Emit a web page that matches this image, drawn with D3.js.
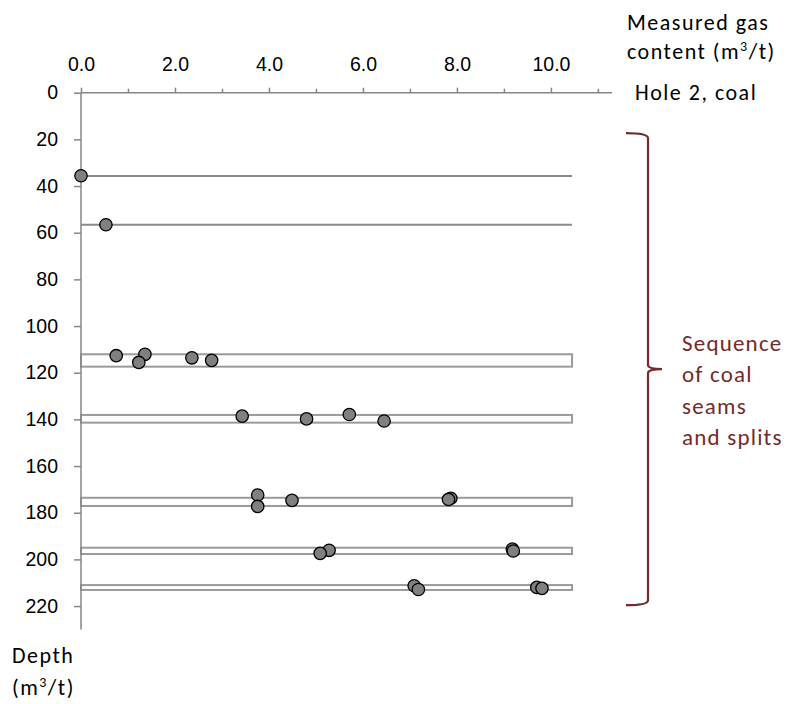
<!DOCTYPE html>
<html>
<head>
<meta charset="utf-8">
<script src="https://cdn.jsdelivr.net/npm/d3@7"></script>
<style>
  body { margin: 0; background: #fff; }
  svg { font-family: Carlito, Calibri, Lato, sans-serif; }
  .axis path, .axis line { stroke: #868686; stroke-width: 1.5px; }
  .axis text { font-size: 19.5px; fill: #000; }
  .lbl { font-size: 22px; letter-spacing: 1.5px; }
</style>
</head>
<body>
<div id="chart"></div>
<script>
// x ticks (gas content) and y ticks (depth)
var xTicks = [0, 2, 4, 6, 8, 10];
var xMinorTicks = [1, 3, 5, 7, 9, 11];
var yTicks = [0, 20, 40, 60, 80, 100, 120, 140, 160, 180, 200, 220];

// single seam lines (depth)
var lineDepths = [35.7, 56.6];
// seams drawn as thin boxes (top / bottom depth)
var seamTops = [112.1, 138.1, 173.6, 195.0, 211.0];
var seamBottoms = [117.4, 141.4, 177.1, 197.7, 213.1];
var seamEnd = 10.45;

// measured samples
var gas = [0.0, 0.53, 0.75, 1.36, 1.23, 2.36, 2.78,
           3.43, 4.80, 5.71, 6.45,
           3.76, 3.76, 4.49, 7.87, 7.82,
           5.28, 5.09, 9.18, 9.20,
           7.09, 7.18, 9.70, 9.81];
var depth = [35.6, 56.6, 112.7, 112.1, 115.6, 113.6, 114.7,
             138.6, 139.8, 137.9, 140.7,
             172.4, 177.3, 174.7, 173.8, 174.3,
             196.1, 197.4, 195.6, 196.4,
             211.3, 212.9, 212.0, 212.4];

var W = 788, H = 704;
var margin = {top: 92.7, left: 81},
    plotW = 531, plotH = 536.7;
var red = '#722a2a';

var svg = d3.select('#chart').append('svg')
    .attr('width', W)
    .attr('height', H);

var x = d3.scaleLinear().domain([0, 11.3]).range([0, plotW]);
var y = d3.scaleLinear().domain([0, 230]).range([0, plotH]);

var g = svg.append('g')
    .attr('transform', 'translate(' + margin.left + ',' + margin.top + ')');

// seam boxes
g.selectAll('.seam')
    .data(seamTops)
    .enter().append('rect')
    .attr('class', 'seam')
    .attr('x', x(0))
    .attr('y', function(d) { return y(d); })
    .attr('width', x(seamEnd) - x(0))
    .attr('height', function(d, i) { return y(seamBottoms[i]) - y(d); })
    .attr('fill', '#fff')
    .attr('stroke', '#9a9a9a')
    .attr('stroke-width', 2);

// single lines
g.selectAll('.seamline')
    .data(lineDepths)
    .enter().append('line')
    .attr('class', 'seamline')
    .attr('x1', x(0))
    .attr('x2', x(seamEnd))
    .attr('y1', function(d) { return y(d); })
    .attr('y2', function(d) { return y(d); })
    .attr('stroke', '#8a8a8a')
    .attr('stroke-width', 2);

// axes
var xAxis = d3.axisTop(x).tickValues(xTicks).tickSize(5).tickPadding(17)
    .tickFormat(d3.format('.1f'));
var xMinor = d3.axisTop(x).tickValues(xMinorTicks).tickSize(4).tickFormat('');
var yAxis = d3.axisLeft(y).tickValues(yTicks).tickSize(7).tickPadding(16);

g.append('g').attr('class', 'axis').call(xMinor)
    .call(function(s) { s.select('.domain').remove(); });
g.append('g').attr('class', 'axis').call(xAxis)
    .call(function(s) { s.select('.domain').attr('d', 'M0,0H' + plotW); });
g.append('g').attr('class', 'axis').call(yAxis)
    .call(function(s) { s.select('.domain').attr('d', 'M0,0V' + plotH); });

// points
g.selectAll('.pt')
    .data(gas)
    .enter().append('circle')
    .attr('class', 'pt')
    .attr('cx', function(d) { return x(d); })
    .attr('cy', function(d, i) { return y(depth[i]); })
    .attr('r', 6.2)
    .attr('fill', '#808080')
    .attr('stroke', '#000')
    .attr('stroke-width', 1.3);

// bracket
var bx = plotW + 36, bTop = y(17.3), bBot = y(219.6), bMid = (bTop + bBot) / 2;
g.append('path')
    .attr('d', 'M' + (bx - 22) + ',' + bTop +
        'Q' + bx + ',' + bTop + ' ' + bx + ',' + (bTop + 5) +
        'V' + (bMid - 4) + 'Q' + bx + ',' + bMid + ' ' + (bx + 14) + ',' + bMid +
        'Q' + bx + ',' + bMid + ' ' + bx + ',' + (bMid + 4) +
        'V' + (bBot - 5) + 'Q' + bx + ',' + bBot + ' ' + (bx - 22) + ',' + bBot)
    .attr('fill', 'none')
    .attr('stroke', red)
    .attr('stroke-width', 2.2);

var note = svg.append('text')
    .attr('x', 682)
    .attr('y', 350.5)
    .style('font-size', '23px')
    .style('letter-spacing', '1.2px')
    .style('fill', red);
['Sequence', 'of coal', 'seams', 'and splits'].forEach(function(t, i) {
    note.append('tspan').attr('x', 682).attr('dy', i ? 31.5 : 0).text(t);
});

// titles
var title = svg.append('text').attr('class', 'lbl').attr('y', 30);
title.append('tspan').attr('x', 627).text('Measured gas');
title.append('tspan').attr('x', 627).attr('dy', 29).text('content (m');
title.append('tspan').attr('dy', -8).style('font-size', '14px').text('3');
title.append('tspan').attr('dy', 8).text('/t)');

svg.append('text').attr('class', 'lbl').attr('x', 635).attr('y', 100)
    .text('Hole 2, coal');

var ylab = svg.append('text').attr('class', 'lbl').attr('y', 663);
ylab.append('tspan').attr('x', 12).text('Depth');
ylab.append('tspan').attr('x', 12).attr('dy', 32).text('(m');
ylab.append('tspan').attr('dy', -8).style('font-size', '14px').text('3');
ylab.append('tspan').attr('dy', 8).text('/t)');
</script>
</body>
</html>
